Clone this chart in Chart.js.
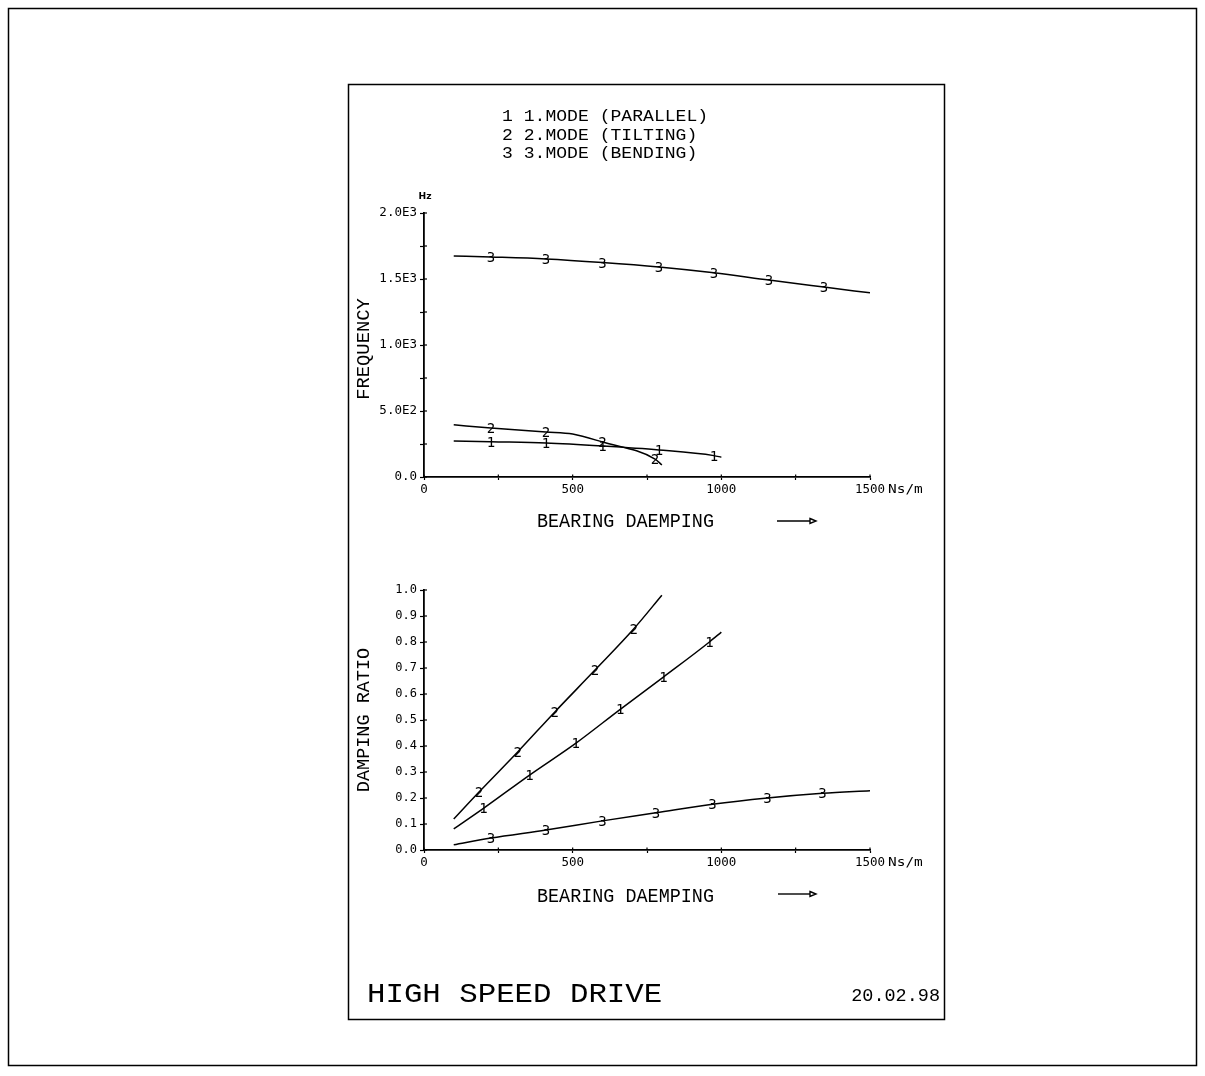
<!DOCTYPE html>
<html><head><meta charset="utf-8">
<script src="https://cdn.jsdelivr.net/npm/chart.js@4/dist/chart.umd.min.js"></script>
<style>html,body{margin:0;padding:0;background:#fff;}canvas{position:absolute;left:0;top:0;}</style>
</head><body>
<canvas id="cFreq" width="1205" height="1076"></canvas>
<canvas id="cRatio" width="1205" height="1076"></canvas>
<script>
// ---------- DATA ----------
const legendLabels = ['1 1.MODE (PARALLEL)', '2 2.MODE (TILTING)', '3 3.MODE (BENDING)'];
const seriesDigits = ['1', '2', '3'];
const plotTitle = 'HIGH SPEED DRIVE';
const plotDate = '20.02.98';
const xAxisTitle = 'BEARING DAEMPING';
const xUnit = 'Ns/m';
const freqUnit = 'Hz';
const freqAxisTitle = 'FREQUENCY';
const ratioAxisTitle = 'DAMPING RATIO';

const xTickValues = [0, 500, 1000, 1500];
const xTickLabels = ['0', '500', '1000', '1500'];
const freqTickValues = [0, 500, 1000, 1500, 2000];
const freqTickLabels = ['0.0', '5.0E2', '1.0E3', '1.5E3', '2.0E3'];
const ratioTickLabels = ['0.0', '0.1', '0.2', '0.3', '0.4', '0.5', '0.6', '0.7', '0.8', '0.9', '1.0'];

// Frequency [Hz] vs bearing damping [Ns/m]
const freqX1 = [100, 225, 410, 600, 790, 975, 1000];
const freqY1 = [273, 267, 258, 235, 205, 162, 150];
const freqMark1 = [1, 2, 3, 4, 5];
const freqX2 = [100, 225, 410, 500, 600, 777, 800];
const freqY2 = [395, 371, 341, 326, 265, 136, 91];
const freqMark2 = [1, 2, 4, 5];
const freqX3 = [100, 225, 410, 600, 790, 975, 1160, 1345, 1500];
const freqY3 = [1675, 1667, 1652, 1625, 1591, 1547, 1492, 1439, 1395];
const freqMark3 = [1, 2, 3, 4, 5, 6, 7];

// Damping ratio vs bearing damping [Ns/m]
const ratioX1 = [100, 200, 355, 510, 660, 805, 960, 1000];
const ratioY1 = [0.081, 0.160, 0.288, 0.410, 0.541, 0.665, 0.800, 0.838];
const ratioMark1 = [1, 2, 3, 4, 5, 6];
const ratioX2 = [100, 185, 315, 440, 575, 705, 800];
const ratioY2 = [0.119, 0.223, 0.377, 0.531, 0.692, 0.850, 0.980];
const ratioMark2 = [1, 2, 3, 4, 5];
const ratioX3 = [100, 225, 410, 600, 780, 970, 1155, 1340, 1500];
const ratioY3 = [0.020, 0.046, 0.077, 0.112, 0.143, 0.176, 0.200, 0.218, 0.228];
const ratioMark3 = [1, 2, 3, 4, 5, 6, 7];

// ---------- HELPERS ----------
const LBL = '"Liberation Mono", "DejaVu Sans Mono", monospace';
const TCK = '"DejaVu Sans Mono", monospace';

function zip(xs, ys) { return xs.map((x, i) => ({ x: x, y: ys[i] })); }

function txt(ctx, s, x, y, size, adv, align, family, rot, weight) {
  ctx.save();
  ctx.font = (weight || 'normal') + ' ' + size + 'px ' + family;
  const nat = ctx.measureText(s).width;
  const sx = (adv * s.length) / nat;
  ctx.translate(x, y);
  if (rot) ctx.rotate(rot);
  ctx.scale(sx, 1);
  ctx.textAlign = align;
  ctx.textBaseline = 'alphabetic';
  ctx.fillStyle = '#000';
  ctx.fillText(s, 0, 0);
  ctx.restore();
}

function arrow(ctx, x0, x1, y) {
  ctx.save();
  ctx.strokeStyle = '#000';
  ctx.lineWidth = 1.4;
  ctx.beginPath();
  ctx.moveTo(x0, y); ctx.lineTo(x1 - 6, y);
  ctx.stroke();
  ctx.beginPath();
  ctx.moveTo(x1 - 6, y - 2.5); ctx.lineTo(x1, y); ctx.lineTo(x1 - 6, y + 2.5); ctx.closePath();
  ctx.stroke();
  ctx.restore();
}

function mkDataset(xs, ys, marks, digit) {
  return {
    data: zip(xs, ys),
    markIdx: marks,
    digit: digit,
    borderColor: '#000',
    borderWidth: 1.5,
    pointRadius: 0,
    fill: false,
    cubicInterpolationMode: 'monotone'
  };
}

const markerPlugin = {
  id: 'markers',
  afterDatasetsDraw(chart) {
    const ctx = chart.ctx;
    chart.data.datasets.forEach((ds, di) => {
      const meta = chart.getDatasetMeta(di);
      ds.markIdx.forEach(i => {
        const p = meta.data[i];
        ctx.save();
        ctx.font = '14px ' + TCK;
        ctx.textAlign = 'center';
        ctx.textBaseline = 'alphabetic';
        ctx.fillStyle = '#000';
        ctx.fillText(ds.digit, p.x, p.y + 5);
        ctx.restore();
      });
    });
  }
};

const innerTicks = {
  id: 'innerTicks',
  afterDraw(chart) {
    const ctx = chart.ctx;
    const ys = chart.scales.y, xs = chart.scales.x;
    ctx.save();
    ctx.strokeStyle = '#000';
    ctx.lineWidth = 1.2;
    ys.ticks.forEach((t, i) => {
      const py = ys.getPixelForTick(i);
      ctx.beginPath(); ctx.moveTo(ys.right, py); ctx.lineTo(ys.right + 3, py); ctx.stroke();
    });
    xs.ticks.forEach((t, i) => {
      const px = xs.getPixelForTick(i);
      ctx.beginPath(); ctx.moveTo(px, xs.top); ctx.lineTo(px, xs.top - 2.5); ctx.stroke();
    });
    ctx.restore();
  }
};

function baseOptions(padTop, padBottom, yOpts) {
  return {
    responsive: false,
    animation: false,
    events: [],
    layout: { padding: { left: 348, right: 335, top: padTop, bottom: padBottom } },
    plugins: { legend: { display: false }, tooltip: { enabled: false }, title: { display: false } },
    scales: {
      x: {
        type: 'linear', min: 0, max: 1500,
        afterFit(s) { s.height = 23; },
        border: { display: true, color: '#000', width: 1.8 },
        grid: { drawOnChartArea: false, drawTicks: true, tickLength: 3, tickColor: '#000', tickWidth: 1.2 },
        ticks: {
          stepSize: 250, padding: 2, color: '#000', maxRotation: 0, autoSkip: false,
          font: { family: TCK, size: 12.5 },
          callback(v) { const i = xTickValues.indexOf(v); return i >= 0 ? xTickLabels[i] : ''; }
        }
      },
      y: Object.assign({
        type: 'linear',
        afterFit(s) { s.width = 76; },
        border: { display: true, color: '#000', width: 1.8 },
        grid: { drawOnChartArea: false, drawTicks: true, tickLength: 4, tickColor: '#000', tickWidth: 1.2 }
      }, yOpts)
    }
  };
}

// ---------- FREQUENCY CHART ----------
const freqDecor = {
  id: 'freqDecor',
  afterDraw(chart) {
    const ctx = chart.ctx;
    ctx.save();
    ctx.strokeStyle = '#000';
    ctx.lineWidth = 1.5;
    ctx.strokeRect(8.5, 8.5, 1188, 1057);
    ctx.strokeRect(348.5, 84.5, 596, 935);
    ctx.restore();
    const base = [121, 139.5, 158];
    legendLabels.forEach((s, i) => txt(ctx, s, 502, base[i], 16.7, 10.85, 'left', LBL));
    txt(ctx, plotTitle, 367, 1002, 27.3, 18.45, 'left', LBL);
    txt(ctx, plotDate, 940, 1001, 18.2, 11.1, 'right', LBL);
    txt(ctx, freqUnit, 425, 199, 9, 6.5, 'center', '"DejaVu Sans"', 0, 'bold');
    txt(ctx, freqAxisTitle, 369, 349, 19, 11.3, 'center', LBL, -Math.PI / 2);
    txt(ctx, xAxisTitle, 537, 527, 19.7, 11.06, 'left', LBL);
    arrow(ctx, 777, 816, 521);
    txt(ctx, xUnit, 888, 493, 12, 8.7, 'left', TCK);
  }
};

new Chart(document.getElementById('cFreq'), {
  type: 'line',
  data: {
    datasets: [
      mkDataset(freqX1, freqY1, freqMark1, seriesDigits[0]),
      mkDataset(freqX2, freqY2, freqMark2, seriesDigits[1]),
      mkDataset(freqX3, freqY3, freqMark3, seriesDigits[2])
    ]
  },
  options: baseOptions(213, 1076 - 477 - 23, {
    min: 0, max: 2000,
    ticks: {
      stepSize: 250, padding: 3, color: '#000', autoSkip: false,
      font: { family: TCK, size: 12.5 },
      callback(v) { const i = freqTickValues.indexOf(v); return i >= 0 ? freqTickLabels[i] : ''; }
    }
  }),
  plugins: [markerPlugin, innerTicks, freqDecor]
});

// ---------- DAMPING RATIO CHART ----------
const ratioDecor = {
  id: 'ratioDecor',
  afterDraw(chart) {
    const ctx = chart.ctx;
    txt(ctx, ratioAxisTitle, 369, 720, 19, 11.1, 'center', LBL, -Math.PI / 2);
    txt(ctx, xAxisTitle, 537, 902, 19.7, 11.06, 'left', LBL);
    arrow(ctx, 778, 816, 894);
    txt(ctx, xUnit, 888, 866, 12, 8.7, 'left', TCK);
  }
};

new Chart(document.getElementById('cRatio'), {
  type: 'line',
  data: {
    datasets: [
      mkDataset(ratioX1, ratioY1, ratioMark1, seriesDigits[0]),
      mkDataset(ratioX2, ratioY2, ratioMark2, seriesDigits[1]),
      mkDataset(ratioX3, ratioY3, ratioMark3, seriesDigits[2])
    ]
  },
  options: baseOptions(590, 1076 - 850 - 23, {
    min: 0, max: 1,
    ticks: {
      stepSize: 0.1, padding: 3, color: '#000', autoSkip: false,
      font: { family: TCK, size: 12 },
      callback(v) { const i = Math.round(v * 10); return ratioTickLabels[i] !== undefined ? ratioTickLabels[i] : ''; }
    }
  }),
  plugins: [markerPlugin, innerTicks, ratioDecor]
});
</script>
</body></html>
